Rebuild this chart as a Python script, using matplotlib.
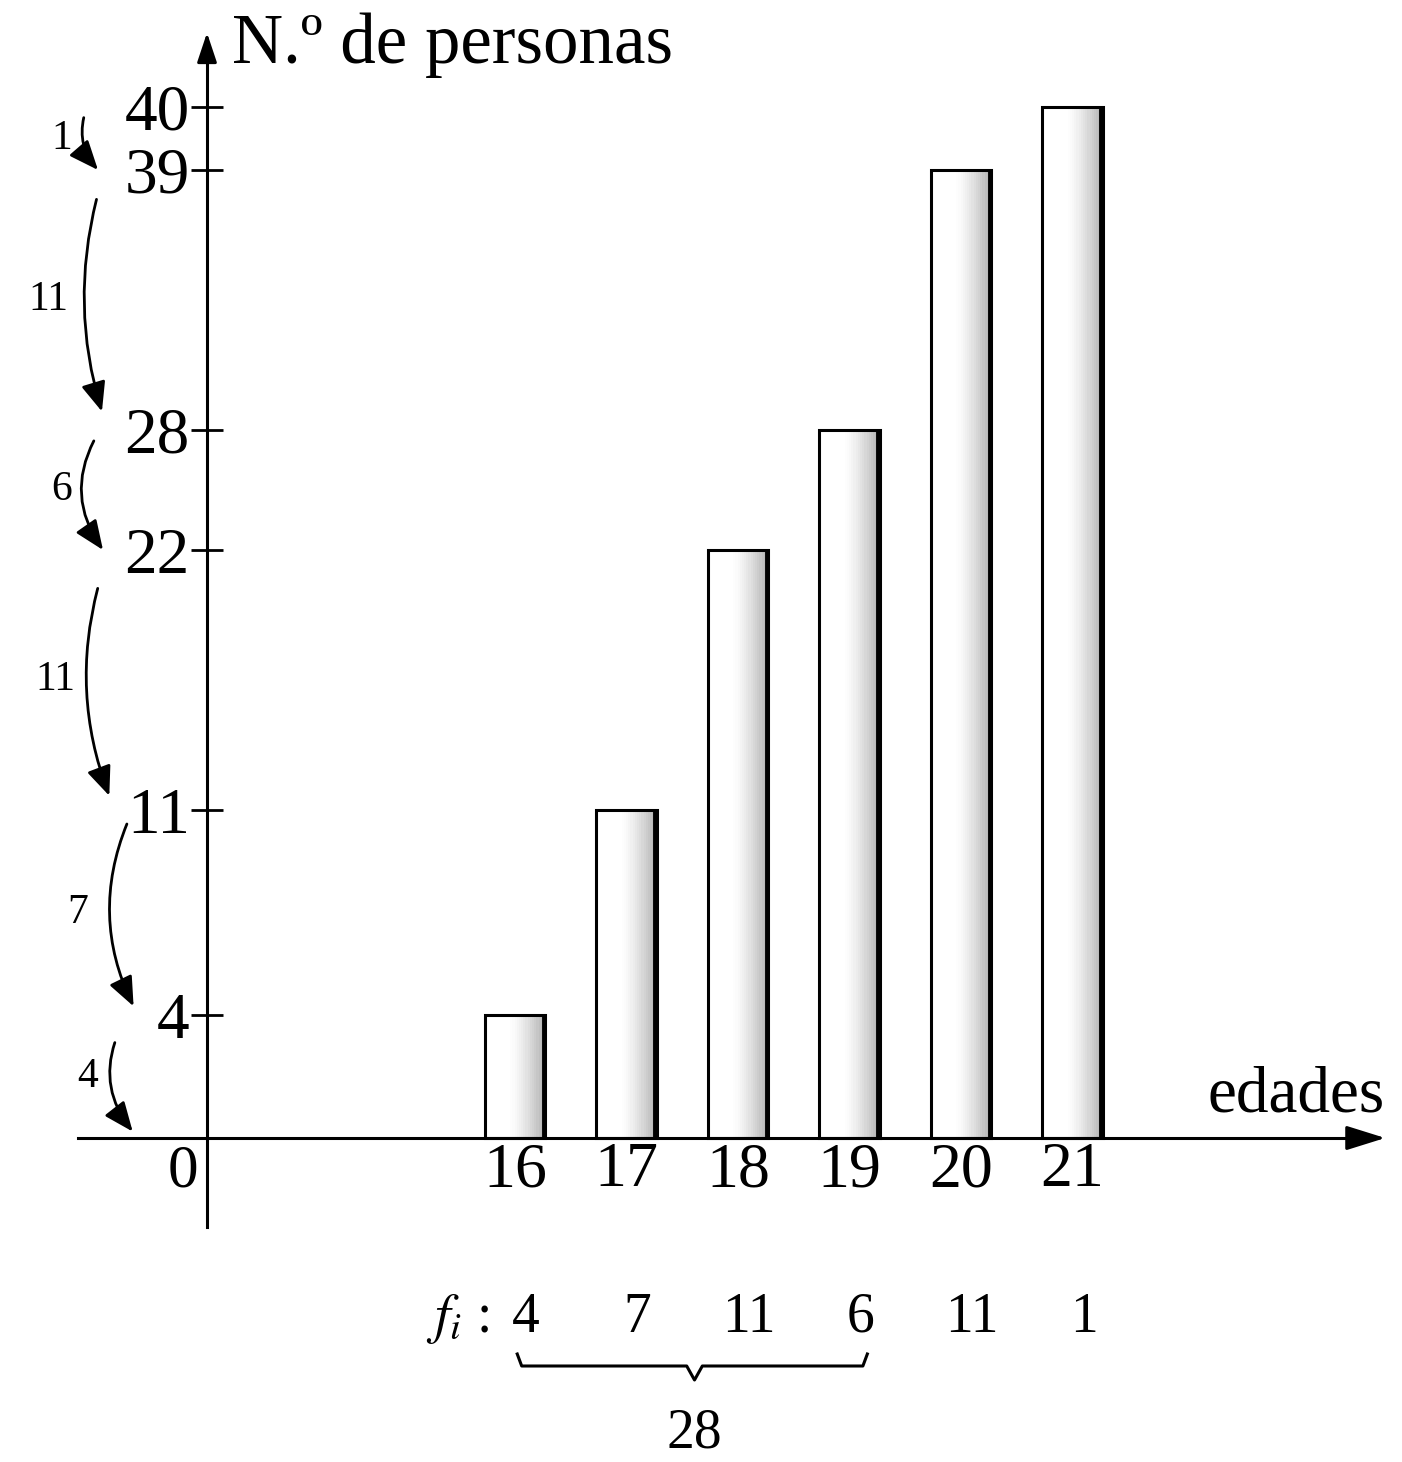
import numpy as np
import matplotlib
matplotlib.use("Agg")
import matplotlib.pyplot as plt
import matplotlib.transforms as mtransforms

# datos del problema
edades = [16, 17, 18, 19, 20, 21]
frecuencias = [4, 7, 11, 6, 11, 1]
acumuladas = [4, 11, 22, 28, 39, 40]
suma_parcial = 28  # 4 + 7 + 11 + 6

plt.rcParams['font.family'] = ['Liberation Serif', 'DejaVu Serif']
plt.rcParams['mathtext.fontset'] = 'stix'

W, H = 1402, 1462
fig = plt.figure(figsize=(W / 100, H / 100), dpi=100)
ax = fig.add_axes([0, 0, 1, 1])

# el eje vertical del libro está dibujado a mano y no es lineal:
# altura (en px sobre el eje x) de cada marca
valores_escala = [-20, 0] + acumuladas + [50]
regla_px = [-615, 0, 123, 328, 588, 708, 968, 1031, 1661]


def adelante(v):
    return np.interp(v, valores_escala, regla_px)


def atras(p):
    return np.interp(p, regla_px, valores_escala)


ax.set_yscale('function', functions=(adelante, atras))


# ayudas de maquetación (px de la imagen -> coordenadas)
def px_x(p):
    return 16 + (p - 515) / 111.5


def fx(p):
    return p / W


def fy(p):
    return 1 - p / H


eje_y = 1138  # fila en px del eje x
ax.set_xlim(px_x(0), px_x(W))
ax.set_ylim(atras(eje_y - H), atras(eje_y))

# barras: blanco a la izquierda, punteado gris hacia la derecha
ancho = 0.54
x_bar = np.array(edades, dtype=float)
ax.bar(x_bar, acumuladas, width=ancho, color='white', edgecolor='none', zorder=2)
n = 16
for k in range(n):
    f0 = 0.42 + 0.58 * k / n
    gris = 1 - 0.30 * ((k + 1) / n) ** 1.4
    ax.bar(x_bar - ancho / 2 + f0 * ancho, acumuladas, width=0.58 * ancho / n,
           align='edge', color=str(gris), edgecolor='none', zorder=2)
ax.bar(x_bar, acumuladas, width=ancho, fill=False, edgecolor='black',
       linewidth=2.2, zorder=3)
ax.vlines(x_bar + ancho / 2 - 0.01, 0, acumuladas, color='black', lw=3.5, zorder=3)

# ejes con flechas
x0 = px_x(207)
for s in ['top', 'right']:
    ax.spines[s].set_visible(False)
ax.spines['left'].set_position(('data', x0))
ax.spines['left'].set_bounds(atras(eje_y - 1227), atras(eje_y - 50))
ax.spines['bottom'].set_position(('data', 0))
ax.spines['bottom'].set_bounds(px_x(78), px_x(1365))
for s in ['left', 'bottom']:
    ax.spines[s].set_linewidth(2.2)
    ax.spines[s].set_zorder(4)

ax.annotate('', xy=(x0, atras(eje_y - 30)), xytext=(x0, atras(eje_y - 60)),
            arrowprops=dict(arrowstyle='-|>,head_length=0.6,head_width=0.2',
                            mutation_scale=30, color='black', lw=2.2))
ax.annotate('', xy=(px_x(1388), 0), xytext=(px_x(1350), 0),
            arrowprops=dict(arrowstyle='-|>,head_length=0.8,head_width=0.25',
                            mutation_scale=30, color='black', lw=2.2))

ax.set_yticks(acumuladas)
ax.set_yticklabels([str(v) for v in acumuladas])
ax.tick_params(axis='y', direction='inout', length=23, width=2, labelsize=47, pad=1)
ax.set_xticks(edades)
ax.set_xticklabels([str(e) for e in edades])
ax.tick_params(axis='x', length=0, labelsize=46, pad=3)

fig.text(fx(198), fy(1172), '0', ha='right', va='center', fontsize=44)
fig.text(fx(232), fy(63), 'N.º de personas', fontsize=51, va='baseline')
fig.text(fx(1385), fy(1112), 'edades', ha='right', va='baseline', fontsize=47)

# fila de frecuencias absolutas
mezcla = mtransforms.blended_transform_factory(ax.transData, fig.transFigure)
fig.text(fx(490), fy(1332), '$f_i$ :', ha='right', va='baseline', fontsize=40)
for e, f in zip(edades, frecuencias):
    ax.text(e + 0.1, fy(1332), str(f), transform=mezcla, ha='center',
            va='baseline', fontsize=40)

# llave bajo las cuatro primeras
xl, xr = edades[0] + 0.02, edades[3] + 0.16
xm = (xl + xr) / 2 + 0.02
yb, yu, yd = fy(1366), fy(1354), fy(1380)
ax.plot([xl, xl + 0.04, xm - 0.07, xm, xm + 0.07, xr - 0.04, xr],
        [yu, yb, yb, yd, yb, yb, yu], transform=mezcla, color='black',
        lw=2.2, clip_on=False)
ax.text(xm, fy(1459), str(suma_parcial), transform=mezcla, ha='center',
        va='bottom', fontsize=40)

# flechas curvas a la izquierda del eje
niveles = [0] + acumuladas
niveles = niveles[::-1]
pares = list(zip(niveles[:-1], niveles[1:]))
flecha_x0 = [87, 105, 100, 110, 133, 128]
flecha_x1 = [98, 108, 103, 115, 138, 138]
recorte_a = [8, 22, 9, 29, 11, 22]
recorte_b = [0, 14, 0, 11, 7, 6]
curva = [0.3, 0.17, 0.33, 0.2, 0.25, 0.37]
etiqueta_x = [62, 48, 62, 55, 78, 88]

lado = mtransforms.blended_transform_factory(fig.transFigure, ax.transData)
for i, (a, b) in enumerate(pares):
    ax.annotate('', xy=(fx(flecha_x1[i]), b), xycoords=lado,
                xytext=(fx(flecha_x0[i]), a), textcoords=lado,
                arrowprops=dict(arrowstyle='-|>,head_length=0.6,head_width=0.25',
                                connectionstyle='arc3,rad=%.2f' % curva[i],
                                mutation_scale=30, color='black', lw=2,
                                shrinkA=recorte_a[i], shrinkB=recorte_b[i]))
    ax.text(fx(etiqueta_x[i]), (a + b) / 2, str(a - b), transform=lado,
            ha='center', va='center', fontsize=30)

fig.savefig('out.png', dpi=100)
